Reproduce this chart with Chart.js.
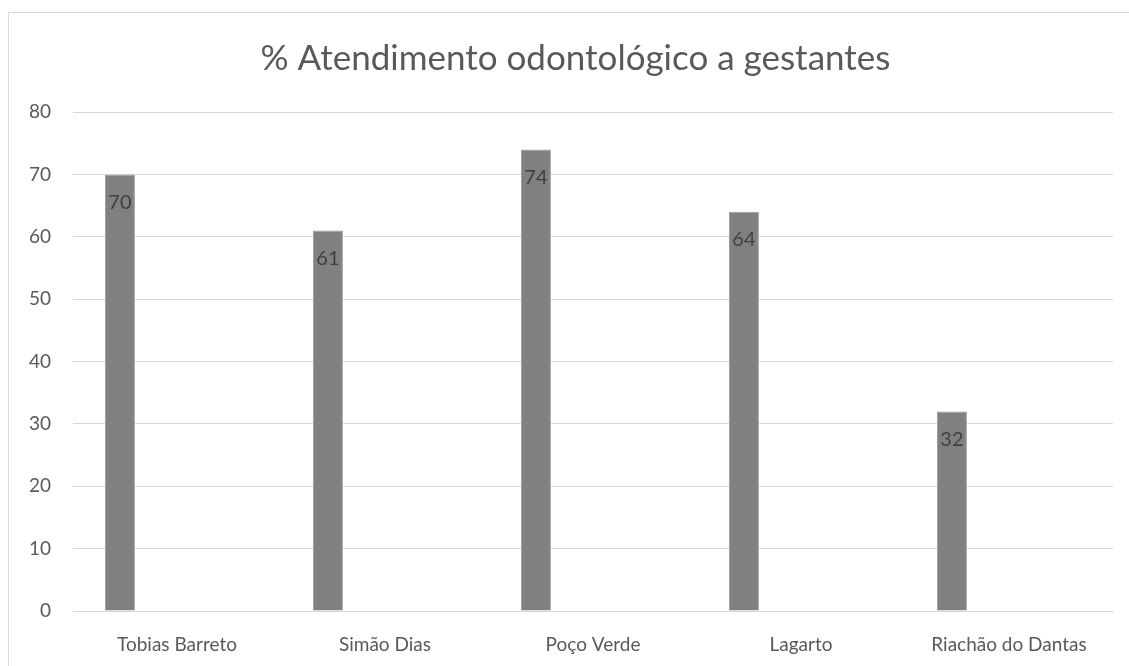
<!DOCTYPE html>
<html>
<head>
<meta charset="utf-8">
<script src="https://cdn.jsdelivr.net/npm/chart.js@4.4.1/dist/chart.umd.min.js"></script>
<style>
  html, body { margin: 0; padding: 0; background: #fff; overflow: hidden; }
  #box {
    position: absolute; left: 8px; top: 12px;
    width: 1134px; height: 654px;
    border-top: 1px solid #d9d9d9; border-left: 1px solid #d9d9d9;
    box-sizing: border-box;
  }
</style>
</head>
<body>
<div id="box"><canvas id="myChart"></canvas></div>
<script>
const municipios = ["Tobias Barreto", "Simão Dias", "Poço Verde", "Lagarto", "Riachão do Dantas"];
const atendimento = [70, 61, 74, 64, 32];
// the sheet had two more (empty) series, they only take up slots
const vazio1 = [null, null, null, null, null];
const vazio2 = [null, null, null, null, null];
const yTicks = [0, 10, 20, 30, 40, 50, 60, 70, 80];

const ctx = document.getElementById("myChart");
const font = "Lato, 'Open Sans', sans-serif";

const barLabels = {
  id: "barLabels",
  afterDatasetsDraw(chart) {
    const c = chart.ctx;
    const meta = chart.getDatasetMeta(0);
    c.save();
    c.fillStyle = "#404040";
    c.font = "20px " + font;
    c.textAlign = "center";
    c.textBaseline = "middle";
    meta.data.forEach((bar, i) => {
      c.fillText(atendimento[i], bar.x, bar.y + 28);
    });
    c.restore();
  },
};

new Chart(ctx, {
  type: "bar",
  data: {
    labels: municipios,
    datasets: [
      { label: "% Atendimento", data: atendimento, backgroundColor: "#808080", borderColor: "#9a9a9a", borderWidth: 1 },
      { label: "", data: vazio1, backgroundColor: "#808080" },
      { label: "", data: vazio2, backgroundColor: "#808080" },
    ],
  },
  options: {
    responsive: true,
    maintainAspectRatio: false,
    animation: false,
    categoryPercentage: 0.823,
    barPercentage: 0.525,
    layout: { padding: 0 },
    plugins: {
      legend: { display: false },
      tooltip: { enabled: false },
      title: {
        display: true,
        text: "% Atendimento odontológico a gestantes",
        color: "#595959",
        font: { family: font, size: 35, weight: "normal" },
        padding: { top: 25, bottom: 32 },
      },
    },
    scales: {
      x: {
        grid: { display: false, drawTicks: false },
        border: { display: true, color: "#d9d9d9" },
        ticks: { color: "#595959", font: { family: font, size: 19 }, padding: 22, maxRotation: 0 },
        afterFit: (s) => { s.height = 55; },
      },
      y: {
        min: 0,
        max: 80,
        afterBuildTicks: (s) => { s.ticks = yTicks.map((v) => ({ value: v })); },
        grid: { color: "#d9d9d9", drawTicks: false },
        border: { display: false },
        ticks: { color: "#595959", font: { family: font, size: 19 }, padding: 22 },
        afterFit: (s) => { s.width = 64; },
      },
      // blank strip on the right so the title stays centred on the whole frame
      yRight: {
        position: "right",
        min: 0,
        max: 80,
        grid: { display: false, drawTicks: false },
        border: { display: false },
        ticks: { display: false },
        afterFit: (s) => { s.width = 29; },
      },
    },
  },
  plugins: [barLabels],
});
</script>
</body>
</html>
